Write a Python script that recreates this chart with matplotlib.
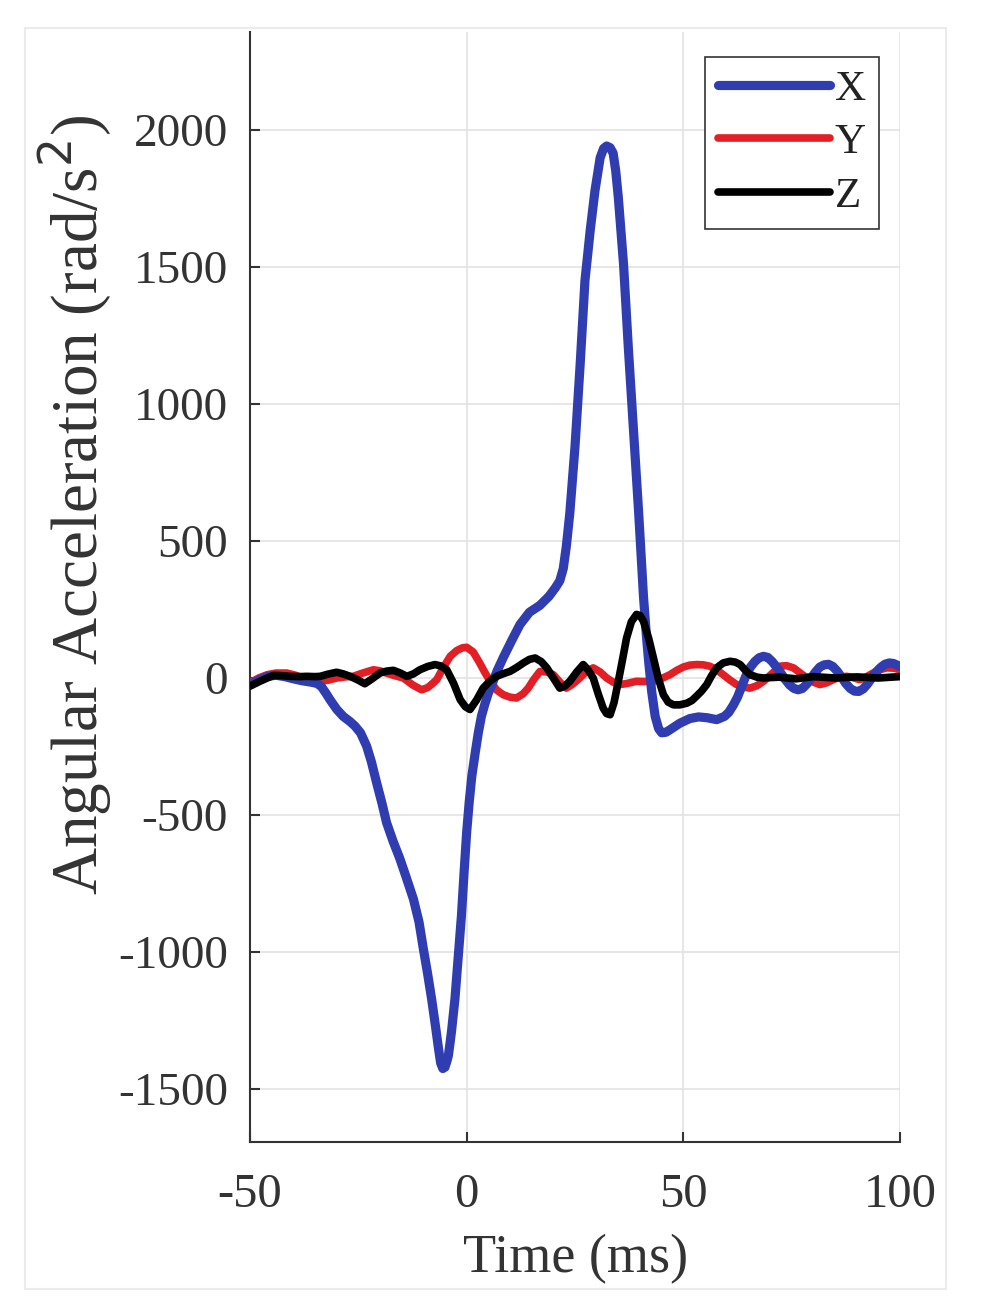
import matplotlib
matplotlib.use("Agg")
import matplotlib.pyplot as plt
from matplotlib.patches import Rectangle

# ---- data ----
x_time = [-50, -48, -46, -44, -42, -40, -38, -36, -34.5, -33.5, -32.5, -31.5, -30, -28.5, -27,
          -25.8, -24.5, -23.1, -22, -20.8, -19.5, -18.5, -17, -15.4, -14, -12.3, -11, -10, -9,
          -8.1, -7.2, -6.5, -6, -5.5, -5, -4.5, -4.2, -3.5, -2.7, -2, -1.2, -0.6, 0, 0.6, 1.2,
          2, 2.7, 3.4, 4.2, 5, 5.8, 7, 8.4, 10.5, 12.3, 14.5, 16.9, 19, 20.5, 21.5, 22.3, 23,
          23.8, 25, 26.2, 27.3, 28.5, 29.6, 30.8, 31.6, 32.3, 33.1, 33.8, 34.4, 35, 36.2, 37.3,
          38.5, 39.7, 40.8, 41.5, 42, 42.7, 43.5, 44.3, 45, 46, 47, 49.2, 51.5, 53.5, 55.5,
          57.7, 59.5, 60.5, 61.5, 62.5, 63.5, 64.5, 65.5, 66.5, 67.5, 68.5, 69.5, 70.5, 71.5,
          72.5, 73.5, 74.5, 75.5, 76.5, 77.5, 78.5, 79.5, 80.5, 81.5, 82.5, 83.5, 84.5, 85.5,
          86.5, 87.5, 88.5, 89.5, 90.5, 91.5, 92.5, 93.5, 94.5, 95.5, 96.5, 97.5, 98.5, 99.5,
          100]
x_vals = [-24, -8, 6, 10, 5, -3, -10, -15, -20, -32, -55, -80, -114, -140, -158,
          -175, -200, -248, -305, -381, -460, -527, -595, -660, -725, -806, -890, -988, -1080,
          -1170, -1270, -1352, -1405, -1425, -1420, -1395, -1376, -1290, -1170, -1030, -866, -710, -563, -450, -357,
          -270, -199, -140, -95, -55, -25, 25, 73, 140, 195, 240, 265, 298, 330, 355, 400, 480,
          601, 844, 1147, 1450, 1632, 1777, 1898, 1932, 1941, 1935, 1915, 1850, 1753, 1510, 1207,
          904, 601, 298, 150, 60, -50, -140, -185, -200, -198, -188, -165, -148, -142, -145,
          -152, -140, -125, -100, -70, -30, 10, 40, 60, 74, 79, 75, 60, 40,
          18, -5, -25, -38, -43, -38, -22, 0, 22, 40, 48, 50, 42, 25,
          3, -20, -38, -48, -49, -40, -22, 0, 22, 38, 50, 55, 53, 46,
          42]

y_time = [-50, -48, -46, -44, -41.5, -39.5, -37.7, -35.5, -33.8, -32, -30, -28, -26.2, -24,
          -21.5, -20, -18.5, -16.5, -14.6, -12.5, -10.4, -9, -8, -6.9, -5.5, -3.8, -2.3, -1, 0,
          1.5, 3, 4.2, 5.4, 7, 8.45, 10, 11.5, 13, 14.2, 15.5, 16.9, 18.5, 20, 21.5, 23, 24.5,
          26.1, 27.7, 29.2, 30.8, 32.3, 33.8, 35.4, 37, 39.2, 41, 43.1, 45, 46.9, 48.5, 50,
          51.5, 53.1, 54.6, 56.1, 57.7, 59.2, 60.8, 62.3, 63.8, 65.4, 67, 68.5, 70.4, 72.3,
          73.8, 75.4, 77, 78.5, 80, 81.5, 83, 84.6, 86, 87.7, 89, 90.7, 92.2, 93.8, 95.3, 96.9,
          98.5, 100]
y_vals = [-18, 0, 12, 18, 18, 10, 0, -8, -12, -8, 0, 4, 6, 18,
          30, 26, 18, 8, 0, -25, -43, -35, -22, -6, 35, 79, 100, 110, 112,
          95, 55, 20, -12, -45, -61, -70, -73, -58, -37, -5, 24, 22, 12, -15, -37, -22,
          0, 25, 37, 22, 0, -15, -24, -20, -12, -13, -12, -2, 12, 28, 40,
          47, 49, 48, 43, 30, 12, -8, -24, -33, -37, -28, -12, 15, 43,
          45, 37, 18, 0, -15, -24, -18, -6, 3, 6, 2, -6, 4, 18, 30, 37,
          36, 30]

z_time = [-50, -49, -47.7, -46, -44.6, -42.5, -40.8, -38.5, -36.9, -35, -33.8, -32, -30, -28.5,
          -26.9, -25, -23.5, -22, -20, -18.5, -16.9, -15.3, -13.8, -12.3, -10.8, -9, -7.3, -6,
          -4.6, -3, -1.5, -0.3, 0.77, 2.3, 3.8, 5.3, 6.9, 8.5, 10, 11.5, 13.1, 14.5, 15.8, 17.2,
          18.5, 20, 21.5, 22.6, 23.8, 25.4, 26.9, 28, 29.2, 30.4, 31.5, 32.3, 33.1, 34, 35, 36,
          36.9, 38, 39.2, 40, 40.8, 42, 43.1, 44.2, 45.4, 46.5, 47.7, 49.2, 50.8, 52, 53, 54.2,
          55.4, 56.5, 57.7, 59.2, 60.8, 62, 63.1, 64.2, 65.4, 67, 68.5, 72, 76, 80, 85, 90, 95,
          100]
z_vals = [-30, -22, -12, 0, 9, 8, 6, 5, 6, 5, 6, 14, 21, 15,
          6, -8, -21, -5, 18, 25, 28, 18, 6, 15, 30, 42, 49, 44,
          30, -20, -79, -105, -115, -80, -37, -12, 6, 16, 24, 38, 55, 68, 73, 60,
          37, 0, -37, -30, -12, 22, 49, 30, 0, -60, -110, -130, -134, -90, -12, 70,
          146, 205, 232, 228, 207, 145, 73, 0, -61, -88, -98, -98, -92, -82, -67, -48,
          -24, 8, 37, 55, 61, 58, 49, 30, 12, 3, 0, 3, -3, 5, 0, 4, 0,
          5]

series_labels = ["X", "Y", "Z"]
x_ticks = [-50, 0, 50, 100]
y_ticks = [-1500, -1000, -500, 0, 500, 1000, 1500, 2000]

# ---- figure ----
W, H = 993, 1314
fig = plt.figure(figsize=(W / 100, H / 100), dpi=100)
serif = ["Liberation Serif", "DejaVu Serif"]
plt.rcParams["font.family"] = serif

# faint screenshot border
fig.patches.append(Rectangle((25 / W, 1 - 1289 / H), (946 - 25) / W, (1289 - 28) / H,
                             transform=fig.transFigure, fill=False,
                             edgecolor="#ebebeb", linewidth=1.5))

ax_l, ax_r, ax_t, ax_b = 250, 900, 32, 1142
ax = fig.add_axes([ax_l / W, 1 - ax_b / H, (ax_r - ax_l) / W, (ax_b - ax_t) / H])

blue = "#2f3db0"
red = "#e31e24"
black = "#000000"

kw = dict(solid_joinstyle="round", solid_capstyle="round")
ax.plot(y_time, y_vals, color=red, lw=5.5, label=series_labels[1], zorder=3, **kw)
ax.plot(x_time, x_vals, color=blue, lw=6.6, label=series_labels[0], zorder=4, **kw)
ax.plot(z_time, z_vals, color=black, lw=5.5, label=series_labels[2], zorder=5, **kw)

ax.set_xlim(-50, 100)
ax.set_ylim(-1693, 2357)
ax.set_xticks(x_ticks)
ax.set_yticks(y_ticks)
ax.set_xticklabels([str(v) for v in x_ticks])
ax.set_yticklabels([str(v) for v in y_ticks])

ax.grid(True, color="#e3e3e3", linewidth=1.2, zorder=0)
ax.set_axisbelow(True)
for s in ["top", "right"]:
    ax.spines[s].set_visible(False)
for s in ["left", "bottom"]:
    ax.spines[s].set_color("#333333")
    ax.spines[s].set_linewidth(1.5)

ax.tick_params(axis="both", direction="in", colors="#333333", labelcolor="#333333",
               length=7, width=1.5)
ax.tick_params(axis="y", labelsize=34, pad=16)
ax.tick_params(axis="x", labelsize=35, pad=22)

fig.text(75 / W, 1 - 505 / H, "Angular Acceleration (rad/s$^2$)", rotation=90,
         ha="center", va="center", fontsize=47, color="#333333")
fig.text(576 / W, 1 - 1259 / H, "Time (ms)", ha="center", va="center",
         fontsize=39, color="#333333")

handles, labels = ax.get_legend_handles_labels()
order = [1, 0, 2]
leg = ax.legend([handles[i] for i in order], [labels[i] for i in order],
                loc="upper right", bbox_to_anchor=(879 / W, 1 - 57 / H),
                bbox_transform=fig.transFigure, borderaxespad=0,
                fontsize=31, handlelength=2.6, handletextpad=0.12,
                labelspacing=0.33, borderpad=0.3, fancybox=False, framealpha=1)
leg.get_frame().set_edgecolor("#333333")
leg.get_frame().set_linewidth(1.2)
for t in leg.get_texts():
    t.set_color("#222222")

fig.savefig("out.png", dpi=100)
